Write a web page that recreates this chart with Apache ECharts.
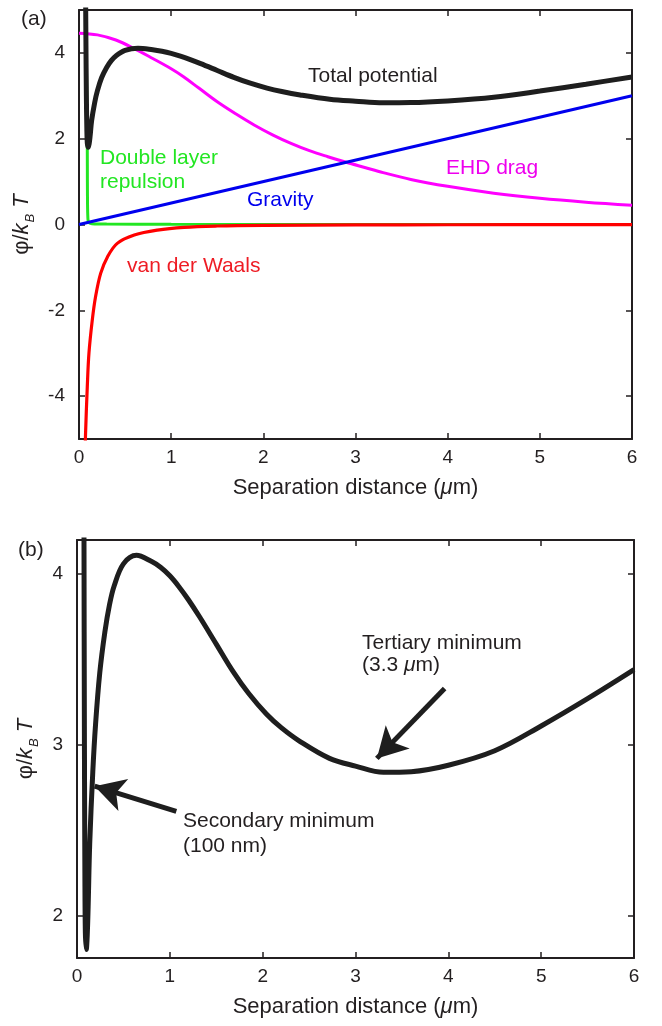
<!DOCTYPE html>
<html>
<head>
<meta charset="utf-8">
<script src="https://cdn.jsdelivr.net/npm/echarts@6/dist/echarts.min.js"></script>
<style>
  html, body { margin: 0; padding: 0; background: #fff; }
  #chart { width: 662px; height: 1026px; }
</style>
</head>
<body>
<div id="chart"></div>
<script>
// values (x in um, y in kT)
var totalX = [0.066, 0.07, 0.075, 0.08, 0.085, 0.09, 0.1, 0.11, 0.12, 0.137, 0.17, 0.2, 0.245, 0.3, 0.35, 0.4, 0.5, 0.64, 0.8, 0.9, 1.0, 1.1, 1.2, 1.32, 1.5, 1.68, 1.85, 2.04, 2.2, 2.4, 2.72, 3.0, 3.3, 3.6, 4.0, 4.5, 5.0, 5.5, 6.0];
var totalY = [9.0, 6.0, 4.3, 3.0, 2.25, 1.9, 1.8, 1.88, 2.05, 2.42, 2.84, 3.12, 3.42, 3.66, 3.82, 3.93, 4.06, 4.11, 4.075, 4.04, 3.99, 3.925, 3.85, 3.75, 3.59, 3.43, 3.3, 3.18, 3.1, 3.02, 2.92, 2.875, 2.838, 2.842, 2.88, 2.965, 3.11, 3.27, 3.44];

var ehdX = [0, 0.2, 0.4, 0.6, 0.8, 1.0, 1.13, 1.3, 1.5, 1.7, 1.9, 2.1, 2.3, 2.5, 2.7, 2.9, 3.1, 3.3, 3.6, 4.0, 4.5, 5.0, 5.5, 6.0];
var ehdY = [4.46, 4.42, 4.3, 4.1, 3.87, 3.63, 3.45, 3.18, 2.86, 2.58, 2.32, 2.09, 1.89, 1.72, 1.58, 1.45, 1.33, 1.21, 1.05, 0.89, 0.73, 0.61, 0.52, 0.45];

var vdwX = [0.064, 0.07, 0.09, 0.108, 0.144, 0.18, 0.235, 0.31, 0.415, 0.6, 0.85, 1.14, 1.5, 2.0, 3.0, 4.0, 6.0];
var vdwY = [-5.6, -4.95, -3.78, -3.0, -2.23, -1.68, -1.14, -0.75, -0.44, -0.245, -0.13, -0.065, -0.035, -0.02, -0.01, -0.006, -0.003];

var dlX = [0.07, 0.08, 0.086, 0.09, 0.091, 0.093, 0.096, 0.1, 0.11, 0.14, 0.3, 1.0, 6.0];
var dlY = [9.0, 4.0, 2.6, 1.75, 1.0, 0.4, 0.17, 0.08, 0.04, 0.02, 0.01, 0.004, 0.0];

var gravX = [0, 6];
var gravY = [0, 3];

var yTicksA = [-4, -2, 0, 2, 4];
var yTicksB = [2, 3, 4];

// annotation arrows in panel (b), [from, to]
var tertiaryArrow = [[3.96, 3.33], [3.23, 2.92]];
var secondaryArrow = [[1.07, 2.61], [0.19, 2.757]];

function pairs(xs, ys) {
  return xs.map(function (x, i) { return [x, ys[i]]; });
}

var FONT = '"Liberation Sans", Arial, Helvetica, sans-serif';
var INK = '#231f20';

var chartDom = document.getElementById('chart');
var mychart = echarts.init(chartDom, null, { renderer: 'canvas' });

function xAx(grid, pos, main) {
  return {
    type: 'value', gridIndex: grid, position: pos, min: 0, max: 6, interval: 1,
    axisLine: { show: true, onZero: false, lineStyle: { color: INK, width: 2 } },
    axisTick: { show: true, inside: true, length: 6, lineStyle: { color: INK, width: 1.5 } },
    axisLabel: { show: main, margin: 9, fontSize: 19, color: INK, fontFamily: FONT },
    splitLine: { show: false },
    name: main ? 'Separation distance ({i|\u03bc}m)' : '',
    nameLocation: 'middle', nameGap: 38,
    nameTextStyle: { fontSize: 22, color: INK, fontFamily: FONT,
      rich: { i: { fontSize: 22, fontStyle: 'italic', color: INK, fontFamily: FONT } } }
  };
}

function yAx(grid, pos, main, lo, hi, ticks) {
  return {
    type: 'value', gridIndex: grid, position: pos, min: lo, max: hi,
    axisLine: { show: true, onZero: false, lineStyle: { color: INK, width: 2 } },
    axisTick: { show: true, inside: true, length: 6, customValues: ticks, lineStyle: { color: INK, width: 1.5 } },
    axisLabel: { show: main, margin: 14, fontSize: 19, color: INK, fontFamily: FONT, customValues: ticks },
    splitLine: { show: false },
    name: main ? '{p|\u03c6/}{k|k}{b|B}{t| T}' : '',
    nameLocation: 'middle', nameGap: 36, nameRotate: 90,
    nameTextStyle: { fontSize: 22, color: INK, fontFamily: FONT,
      rich: {
        p: { fontSize: 22, color: INK, fontFamily: FONT, lineHeight: 30 },
        k: { fontSize: 22, fontStyle: 'italic', color: INK, fontFamily: FONT, lineHeight: 30 },
        b: { fontSize: 13, fontStyle: 'italic', color: INK, fontFamily: FONT, lineHeight: 30, verticalAlign: 'bottom', padding: [0, 0, 0, 1] },
        t: { fontSize: 22, fontStyle: 'italic', color: INK, fontFamily: FONT, lineHeight: 30 }
      } }
  };
}

function curve(name, xs, ys, color, width, xi, yi) {
  return {
    name: name, type: 'line', xAxisIndex: xi, yAxisIndex: yi,
    data: pairs(xs, ys), showSymbol: false, smooth: 0.35,
    clip: true, lineStyle: { color: color, width: width }, silent: true
  };
}

function txt(x, y, s, color, rich) {
  return {
    type: 'text', left: x, top: y - 12,
    style: { text: s, fill: color, font: '21px ' + FONT, rich: rich || {} }
  };
}

var italicMu = { i: { fontStyle: 'italic', fontSize: 21, fill: INK, color: INK, fontFamily: FONT } };

function arrowLine(a) {
  return [
    { coord: a[0], symbol: 'none' },
    { coord: a[1], symbol: 'arrow', symbolSize: [25, 30] }
  ];
}

var option = {
  animation: false,
  backgroundColor: '#ffffff',
  grid: [
    { left: 79, top: 10, width: 553, height: 429 },
    { left: 77, top: 540, width: 557, height: 418 }
  ],
  xAxis: [xAx(0, 'bottom', true), xAx(0, 'top', false), xAx(1, 'bottom', true), xAx(1, 'top', false)],
  yAxis: [yAx(0, 'left', true, -5, 5, yTicksA), yAx(0, 'right', false, -5, 5, yTicksA),
          yAx(1, 'left', true, 1.75, 4.2, yTicksB), yAx(1, 'right', false, 1.75, 4.2, yTicksB)],
  series: [
    curve('Double layer repulsion', dlX, dlY, '#22e622', 3, 0, 0),
    curve('van der Waals', vdwX, vdwY, '#ff0000', 3.2, 0, 0),
    curve('EHD drag', ehdX, ehdY, '#ff00ff', 3, 0, 0),
    curve('Gravity', gravX, gravY, '#0000ee', 3, 0, 0),
    curve('Total potential', totalX, totalY, '#1e1e1e', 5, 0, 0),
    (function () {
      var s = curve('Total potential (b)', totalX, totalY, '#1e1e1e', 5, 2, 2);
      s.markLine = {
        silent: true, animation: false,
        symbol: ['none', 'arrow'], symbolSize: 28,
        label: { show: false },
        lineStyle: { color: '#1e1e1e', width: 5, type: 'solid' },
        data: [arrowLine(tertiaryArrow), arrowLine(secondaryArrow)]
      };
      return s;
    })()
  ],
  graphic: [
    txt(21, 21, '(a)', INK),
    txt(18, 552, '(b)', INK),
    txt(308, 78, 'Total potential', INK),
    txt(100, 160, 'Double layer', '#22e622'),
    txt(100, 184, 'repulsion', '#22e622'),
    txt(247, 202, 'Gravity', '#0000ee'),
    txt(446, 170, 'EHD drag', '#ee00ee'),
    txt(127, 268, 'van der Waals', '#ee1c24'),
    txt(362, 645, 'Tertiary minimum', INK),
    txt(362, 667, '(3.3 {i|\u03bc}m)', INK, italicMu),
    txt(183, 823, 'Secondary minimum', INK),
    txt(183, 848, '(100 nm)', INK)
  ]
};

mychart.setOption(option);
</script>
</body>
</html>
